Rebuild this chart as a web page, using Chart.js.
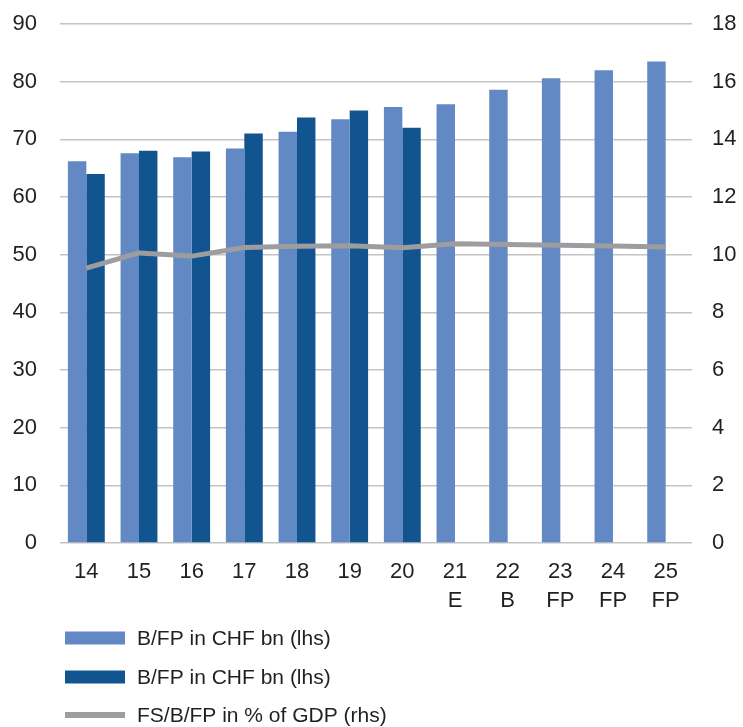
<!DOCTYPE html>
<html>
<head>
<meta charset="utf-8">
<script src="https://cdn.jsdelivr.net/npm/chart.js@4/dist/chart.umd.min.js"></script>
<style>
  html, body { margin: 0; padding: 0; background: #fff; }
  #wrap { width: 743px; height: 727px; position: relative; }
</style>
</head>
<body>
<div id="wrap"><canvas id="c" width="743" height="727"></canvas></div>
<script>
// Years (two-digit) and their status suffix: E = estimate, B = budget, FP = financial plan
const years = ['14', '15', '16', '17', '18', '19', '20', '21', '22', '23', '24', '25'];
const suffixes = ['', '', '', '', '', '', '', 'E', 'B', 'FP', 'FP', 'FP'];

// Budget / financial plan, CHF bn (left axis)
const budgetValues = [66.2, 67.6, 66.9, 68.4, 71.3, 73.5, 75.6, 76.1, 78.6, 80.6, 82.0, 83.5];
// Outturn, CHF bn (left axis)
const actualValues = [64.0, 68.0, 67.9, 71.0, 73.8, 75.0, 72.0, null, null, null, null, null];
// Expenditure as % of GDP (right axis)
const gdpShare = [9.53, 10.06, 9.95, 10.25, 10.29, 10.31, 10.24, 10.38, 10.35, 10.33, 10.30, 10.27];

const seriesNames = ['B/FP in CHF bn (lhs)', 'B/FP in CHF bn (lhs)', 'FS/B/FP in % of GDP (rhs)'];
const leftTicks = [0, 10, 20, 30, 40, 50, 60, 70, 80, 90];
const rightTicks = [0, 2, 4, 6, 8, 10, 12, 14, 16, 18];

const labels = years.map((y, i) => suffixes[i] ? [y, suffixes[i]] : [y]);

const LIGHT = '#6389C4';
const DARK = '#12548F';
const GREY = '#9D9D9F';
const TEXT = '#231F20';
const FONT = '"Liberation Sans", Arial, Helvetica, sans-serif';

// Vertical legend drawn under the axis labels
const stackedLegend = {
  id: 'stackedLegend',
  afterDraw(chart) {
    const ctx = chart.ctx;
    const rows = [638, 677, 715];
    const x0 = 65, boxW = 60, textX = 137;
    ctx.save();
    ctx.font = '21px ' + FONT;
    ctx.textBaseline = 'middle';
    ctx.textAlign = 'left';
    chart.data.datasets.forEach((ds, i) => {
      const y = rows[i];
      ctx.fillStyle = ds.type === 'line' ? ds.borderColor : ds.backgroundColor;
      if (ds.type === 'line') {
        ctx.fillRect(x0, y - 3, boxW, 6);
      } else {
        ctx.fillRect(x0, y - 6.5, boxW, 13);
      }
      ctx.fillStyle = TEXT;
      ctx.fillText(ds.label, textX, y + 1);
    });
    ctx.restore();
  }
};

// Fixed axis boxes so the plot area sits where it should
function fixVertical(width) {
  return (s) => { s.width = width; s.paddingTop = 0; s.paddingBottom = 0; };
}

new Chart(document.getElementById('c'), {
  data: {
    labels: labels,
    datasets: [
      {
        type: 'bar', label: seriesNames[0], data: budgetValues,
        backgroundColor: LIGHT, yAxisID: 'y', order: 2,
        categoryPercentage: 0.7, barPercentage: 1.0
      },
      {
        type: 'bar', label: seriesNames[1], data: actualValues,
        backgroundColor: DARK, yAxisID: 'y', order: 2,
        categoryPercentage: 0.7, barPercentage: 1.0
      },
      {
        type: 'line', label: seriesNames[2], data: gdpShare,
        borderColor: GREY, backgroundColor: GREY, borderWidth: 5,
        pointRadius: 0, tension: 0, yAxisID: 'y1', order: 1,
        borderJoinStyle: 'round'
      }
    ]
  },
  options: {
    responsive: false,
    animation: false,
    devicePixelRatio: 1,
    layout: { padding: { left: 0, right: 0, top: 24, bottom: 0 } },
    plugins: { legend: { display: false }, tooltip: { enabled: false } },
    scales: {
      x: {
        grid: { display: false, drawTicks: false },
        border: { display: false },
        afterFit: (s) => { s.height = 184; s.paddingLeft = 0; s.paddingRight = 0; },
        ticks: {
          color: TEXT, padding: 13.5, maxRotation: 0, autoSkip: false,
          font: { family: FONT, size: 22, lineHeight: 1.36 }
        }
      },
      y: {
        position: 'left',
        min: 0, max: 90,
        afterBuildTicks: (s) => { s.ticks = leftTicks.map(v => ({ value: v })); },
        afterFit: fixVertical(60),
        grid: { color: '#C3C3C3', lineWidth: 1.5, drawTicks: false },
        border: { display: false },
        ticks: {
          color: TEXT, padding: 23,
          font: { family: FONT, size: 22 }
        }
      },
      y1: {
        position: 'right',
        min: 0, max: 18,
        afterBuildTicks: (s) => { s.ticks = rightTicks.map(v => ({ value: v })); },
        afterFit: fixVertical(51),
        grid: { display: false, drawTicks: false },
        border: { display: false },
        ticks: {
          color: TEXT, padding: 20,
          font: { family: FONT, size: 22 }
        }
      }
    }
  },
  plugins: [stackedLegend]
});
</script>
</body>
</html>
